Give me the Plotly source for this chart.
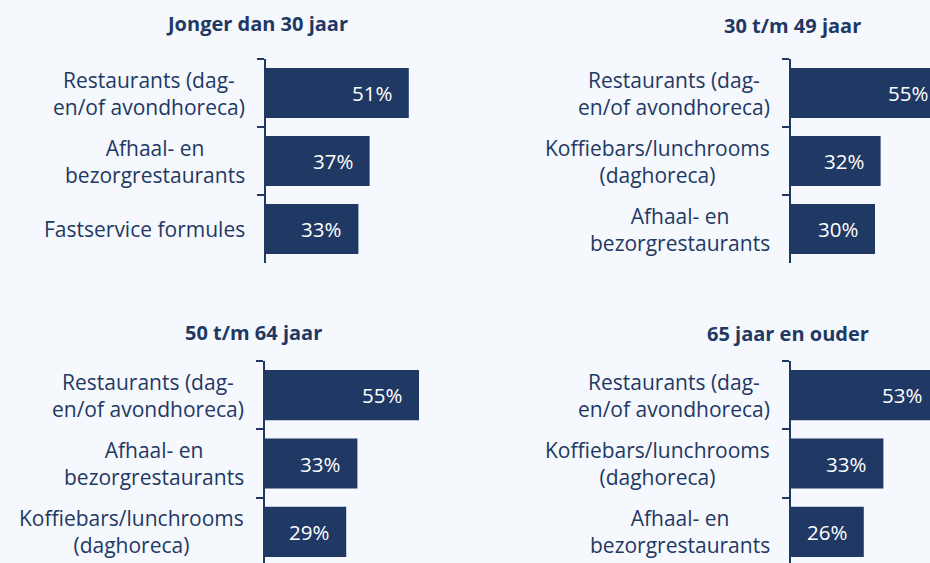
import plotly.graph_objects as go

# ---- data ----
titles = ["Jonger dan 30 jaar", "30 t/m 49 jaar", "50 t/m 64 jaar", "65 jaar en ouder"]

cats_p1 = ["Restaurants (dag-<br>en/of avondhoreca)", "Afhaal- en<br>bezorgrestaurants", "Fastservice formules"]
vals_p1 = [51, 37, 33]

cats_p2 = ["Restaurants (dag-<br>en/of avondhoreca)", "Koffiebars/lunchrooms<br>(daghoreca)", "Afhaal- en<br>bezorgrestaurants"]
vals_p2 = [55, 32, 30]

cats_p3 = ["Restaurants (dag-<br>en/of avondhoreca)", "Afhaal- en<br>bezorgrestaurants", "Koffiebars/lunchrooms<br>(daghoreca)"]
vals_p3 = [55, 33, 29]

cats_p4 = ["Restaurants (dag-<br>en/of avondhoreca)", "Koffiebars/lunchrooms<br>(daghoreca)", "Afhaal- en<br>bezorgrestaurants"]
vals_p4 = [53, 33, 26]

# The visible window is 930x563; the chart itself is a little larger and is cropped
W, H = 970, 580
NAVY = "#1F3864"
BG = "#F5F8FC"
FONT = "Open Sans"
PXPCT = 2.8  # pixels per percent

panels = [
    dict(cats=cats_p1, vals=vals_p1, title=titles[0], ax=266, xr=466, top=59, bot=263, tx=257, ty=23),
    dict(cats=cats_p2, vals=vals_p2, title=titles[1], ax=791, xr=966, top=59, bot=263, tx=792, ty=26),
    dict(cats=cats_p3, vals=vals_p3, title=titles[2], ax=265, xr=465, top=361, bot=566, tx=253, ty=332),
    dict(cats=cats_p4, vals=vals_p4, title=titles[3], ax=791, xr=966, top=361, bot=566, tx=788, ty=333),
]

fig = go.Figure()
annotations = []

for i, p in enumerate(panels, start=1):
    xa = "x" if i == 1 else f"x{i}"
    ya = "y" if i == 1 else f"y{i}"
    fig.add_trace(go.Bar(
        x=p["vals"], y=p["cats"], orientation="h",
        marker=dict(color=NAVY, line=dict(width=0)),
        xaxis=xa, yaxis=ya, hoverinfo="skip", showlegend=False,
    ))
    xrange_max = (p["xr"] - p["ax"]) / PXPCT
    xkey = "xaxis" if i == 1 else f"xaxis{i}"
    ykey = "yaxis" if i == 1 else f"yaxis{i}"
    fig.update_layout(**{
        xkey: dict(domain=[p["ax"] / W, p["xr"] / W], range=[0, xrange_max],
                   visible=False, anchor=ya, fixedrange=True),
        ykey: dict(domain=[1 - p["bot"] / H, 1 - p["top"] / H], range=[2.5, -0.5],
                   type="category", categoryorder="array", categoryarray=p["cats"],
                   showline=True, linecolor=NAVY, linewidth=2,
                   ticks="outside", tickson="boundaries", ticklen=7, tickwidth=2,
                   tickcolor=NAVY, showticklabels=False, showgrid=False,
                   zeroline=False, anchor=xa, fixedrange=True),
    })
    # category labels
    for c in p["cats"]:
        annotations.append(dict(
            x=0, xref=f"{xa} domain", y=c, yref=ya, text=c, showarrow=False,
            xanchor="right", yanchor="middle", align="center", xshift=-19,
            font=dict(family=FONT, size=21, color=NAVY),
        ))
    # value labels
    for c, v in zip(p["cats"], p["vals"]):
        annotations.append(dict(
            x=v, xref=xa, y=c, yref=ya, text=f"{v}%", showarrow=False,
            xanchor="right", yanchor="middle", xshift=-15,
            font=dict(family=FONT, size=20.5, color="white"),
        ))
    # titles
    annotations.append(dict(
        x=p["tx"] / W, y=1 - p["ty"] / H, xref="paper", yref="paper",
        text=f"<b>{p['title']}</b>", showarrow=False,
        xanchor="center", yanchor="middle",
        font=dict(family=FONT, size=20, color=NAVY),
    ))

fig.update_layout(
    width=W, height=H,
    margin=dict(l=0, r=0, t=0, b=0),
    paper_bgcolor=BG, plot_bgcolor=BG,
    bargap=0.265,
    annotations=annotations,
    showlegend=False,
)

fig.write_html(
    "out.html",
    config={"displayModeBar": False},
    post_script="document.documentElement.style.overflow='hidden';"
                "document.body.style.margin='0';document.body.style.overflow='hidden';"
                "document.body.style.background='" + BG + "';",
)
